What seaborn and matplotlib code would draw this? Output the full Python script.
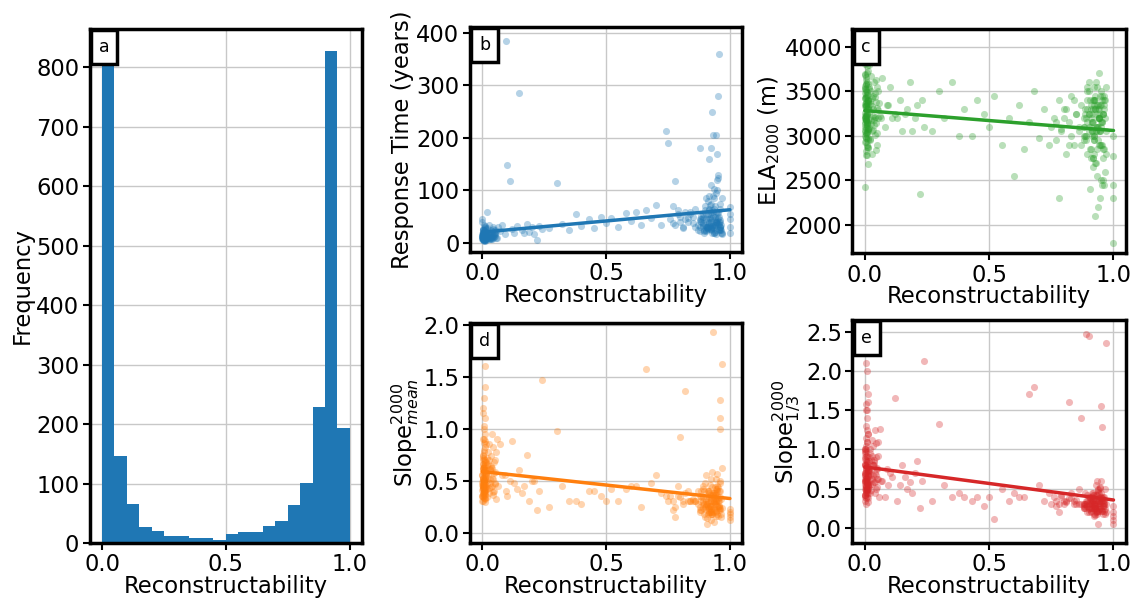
import matplotlib
matplotlib.use('Agg')
import matplotlib.pyplot as plt
import pandas as pd
import seaborn as sns

# panel a: histogram of reconstructability, bins of 0.05
bin_edges = [0.0, 0.05, 0.1, 0.15, 0.2, 0.25, 0.3, 0.35, 0.4, 0.45, 0.5,
             0.55, 0.6, 0.65, 0.7, 0.75, 0.8, 0.85, 0.9, 0.95, 1.0]
bin_counts = [807, 147, 66, 27, 21, 12, 12, 9, 9, 5,
              15, 19, 19, 28, 37, 64, 101, 228, 828, 194]

# panels b-e: one row per glacier (reconstructability is shared)
recon = [
    # near zero
    0.000, 0.001, 0.002, 0.003, 0.004, 0.005, 0.006, 0.007, 0.008, 0.009,
    0.010, 0.011, 0.012, 0.013, 0.014, 0.000, 0.002, 0.004, 0.006, 0.008,
    0.001, 0.003, 0.005, 0.007, 0.009, 0.011, 0.013, 0.015, 0.000, 0.002,
    0.004, 0.006, 0.008, 0.010, 0.012, 0.014, 0.001, 0.003, 0.005, 0.007,
    0.009, 0.011, 0.013, 0.000, 0.001, 0.002, 0.003, 0.004, 0.005, 0.006,
    0.000, 0.001, 0.002, 0.003, 0.004, 0.005, 0.006, 0.007, 0.008, 0.009,
    0.010, 0.011, 0.012, 0.013, 0.014, 0.000, 0.002, 0.004, 0.006, 0.008,
    0.001, 0.003, 0.005, 0.007, 0.009, 0.011, 0.013, 0.015, 0.000, 0.002,
    0.004, 0.006, 0.008, 0.010, 0.012, 0.014, 0.001, 0.003, 0.005, 0.007,
    0.009, 0.011, 0.013, 0.000, 0.001, 0.002, 0.003, 0.004, 0.005, 0.006,
    # 0.015 - 0.06
    0.016, 0.018, 0.020, 0.022, 0.024, 0.026, 0.028, 0.030, 0.032, 0.034,
    0.036, 0.038, 0.040, 0.042, 0.044, 0.046, 0.048, 0.050, 0.052, 0.055,
    0.017, 0.019, 0.021, 0.023, 0.025, 0.027, 0.029, 0.031, 0.033, 0.035,
    0.037, 0.039, 0.041, 0.043, 0.045, 0.047, 0.050, 0.053, 0.056, 0.060,
    # 0.06 - 0.25
    0.065, 0.07, 0.08, 0.09, 0.095, 0.10, 0.11, 0.12, 0.13, 0.14,
    0.15, 0.16, 0.17, 0.18, 0.19, 0.20, 0.21, 0.22, 0.23, 0.24,
    # 0.25 - 0.75
    0.27, 0.30, 0.32, 0.35, 0.38, 0.40, 0.43, 0.45, 0.48, 0.50,
    0.52, 0.55, 0.58, 0.60, 0.62, 0.64, 0.66, 0.68, 0.70, 0.72,
    0.74, 0.75,
    # 0.75 - 0.88
    0.76, 0.77, 0.78, 0.79, 0.80, 0.81, 0.82, 0.83, 0.84, 0.85,
    0.86, 0.87, 0.88, 0.78, 0.80, 0.82, 0.84, 0.86, 0.77, 0.79,
    0.81, 0.83, 0.85, 0.87, 0.88,
    # 0.88 - 0.97
    0.880, 0.890, 0.900, 0.905, 0.910, 0.915, 0.920, 0.925, 0.930, 0.935,
    0.940, 0.945, 0.950, 0.955, 0.960, 0.965, 0.970, 0.885, 0.895, 0.908,
    0.912, 0.918, 0.922, 0.928, 0.932, 0.938, 0.942, 0.948, 0.952, 0.958,
    0.962, 0.902, 0.917, 0.927, 0.937, 0.947, 0.957, 0.892, 0.923, 0.943,
    0.880, 0.890, 0.900, 0.905, 0.910, 0.915, 0.920, 0.925, 0.930, 0.935,
    0.940, 0.945, 0.950, 0.955, 0.960, 0.965, 0.970, 0.885, 0.895, 0.908,
    0.912, 0.918, 0.922, 0.928, 0.932, 0.938, 0.942, 0.948, 0.952, 0.958,
    0.962, 0.902, 0.917, 0.927, 0.937, 0.947, 0.957, 0.892, 0.923, 0.943,
    0.880, 0.890, 0.900, 0.905, 0.910, 0.915, 0.920, 0.925, 0.930, 0.935,
    0.940, 0.945, 0.950, 0.955, 0.960, 0.965, 0.970, 0.885, 0.895, 0.908,
    0.912, 0.918, 0.922, 0.928, 0.932, 0.938, 0.942, 0.948, 0.952, 0.958,
    0.962, 0.902, 0.917, 0.927, 0.937, 0.947, 0.957, 0.892, 0.923, 0.943,
    # fully reconstructable
    1.0, 1.0, 1.0, 1.0, 1.0,
]

response_time = [
    12, 18, 8, 25, 15, 10, 20, 6, 14, 22,
    9, 16, 30, 11, 19, 7, 13, 24, 5, 16,
    20, 10, 14, 35, 8, 17, 12, 6, 18, 10,
    15, 9, 22, 13, 4, 27, 11, 16, 19, 14,
    7, 21, 12, 40, 10, 13, 8, 17, 11, 11,
    14, 11, 26, 9, 17, 6, 19, 12, 23, 13,
    10, 24, 15, 8, 12, 45, 7, 11, 3, 15,
    18, 13, 9, 16, 21, 5, 28, 12, 10, 18,
    11, 20, 14, 7, 33, 12, 16, 9, 15, 13,
    16, 8, 19, 13, 10, 25, 6, 14, 21, 18,
    20, 14, 28, 10, 18, 35, 12, 16, 9, 8,
    15, 22, 8, 30, 13, 19, 11, 25, 17, 10,
    11, 60, 9, 18, 14, 7, 21, 12, 8, 10,
    24, 12, 18, 9, 27, 15, 20, 13, 22, 10,
    30, 22, 35, 18, 385, 148, 118, 26, 20, 32,
    285, 24, 19, 36, 21, 30, 17, 5, 33, 26,
    28, 115, 36, 25, 55, 32, 45, 28, 50, 38,
    48, 30, 58, 42, 60, 35, 62, 48, 72, 35,
    213, 190,
    45, 70, 35, 55, 50, 30, 60, 40, 60, 50,
    65, 25, 180, 118, 40, 45, 55, 30, 38, 62,
    28, 48, 38, 35, 45,
    30, 45, 62, 25, 80, 40, 55, 110, 35, 102,
    50, 95, 130, 40, 65, 25, 85, 45, 19, 30,
    55, 35, 75, 20, 60, 45, 40, 100, 124, 30,
    75, 55, 90, 28, 65, 120, 50, 35, 26, 40,
    42, 38, 70, 22, 45, 160, 33, 60, 28, 86,
    35, 60, 48, 360, 25, 20, 18, 40, 22, 28,
    28, 45, 180, 32, 52, 70, 24, 38, 58, 30,
    40, 30, 65, 250, 20, 44, 36, 55, 25, 18,
    22, 50, 34, 85, 26, 62, 48, 30, 205, 20,
    34, 38, 280, 27, 44, 35, 20, 52, 24, 30,
    33, 72, 26, 48, 90, 21, 40, 170, 36, 30,
    26, 45, 38, 62, 30, 58, 24, 32, 40, 205,
    68, 30, 45, 20, 55,
]

ela_2000 = [
    3480, 3130, 3680, 2980, 3330, 3180, 3830, 3030, 3380, 2780,
    3230, 3580, 3080, 3400, 2880, 3930, 3200, 3530, 2930, 3040,
    3360, 3030, 3630, 3160, 3460, 2680, 3730, 3250, 3430, 3070,
    2980, 3380, 3780, 3100, 3300, 2860, 3560, 3220, 3500, 3120,
    3880, 3080, 3320, 2930, 3430, 3200, 3580, 2830, 3370, 3180,
    3160, 3540, 3000, 3350, 3660, 2780, 3440, 3240, 3490, 3140,
    3980, 2980, 3400, 3060, 3310, 2430, 3690, 3190, 3460, 3300,
    3100, 3430, 3220, 3600, 2900, 3370, 3150, 3550, 3260, 3220,
    3330, 3020, 3710, 3130, 3390, 2950, 3520, 3210, 3300, 3240,
    2880, 3460, 3180, 3800, 3040, 3340, 3250, 3580, 3090, 3180,
    3520, 3090, 3390, 2950, 3670, 3180, 3330, 3050, 3450, 3070,
    3120, 3600, 3210, 3480, 2840, 3380, 3030, 3550, 3290, 3200,
    3790, 2970, 3360, 3130, 3500, 2800, 3430, 3220, 3300, 3200,
    3180, 3440, 3010, 3630, 3140, 3310, 2900, 3500, 3370, 3220,
    3200, 3650, 3100, 3350, 3350, 3550, 3200, 3250, 3200, 3400,
    3050, 3250, 3300, 3600, 3050, 3200, 3350, 2350, 3400, 3100,
    3050, 3500, 3200, 3600, 3000, 3300, 3000, 3400, 3250, 3100,
    3450, 2900, 3200, 2550, 3350, 2850, 3150, 3500, 2980, 3300,
    2900, 3100,
    3200, 2950, 3400, 3050, 3300, 2800, 3150, 3450, 2900, 3250,
    3100, 3350, 3000, 2300, 3200, 2900, 3400, 3050, 3150, 3075,
    3300, 3000, 3250, 2900, 3100,
    3100, 2950, 3250, 3400, 2850, 3150, 3000, 3300, 2700, 3350,
    3050, 3450, 2900, 3150, 3350, 2600, 3050, 3250, 3500, 2750,
    3000, 3300, 2800, 3100, 3550, 2950, 3200, 2500, 3400, 3250,
    2850, 3250, 3150, 2100, 3350, 3050, 2750, 3300, 3550, 3700,
    3200, 3000, 3600, 2400, 3100, 3250, 2950, 3400, 3050, 3100,
    2900, 3350, 3100, 2450, 3450, 3200, 2800, 3300, 3150, 3350,
    3150, 2750, 3400, 3050, 2550, 3300, 3200, 3500, 2900, 3250,
    3300, 3050, 2650, 3450, 3100, 2300, 3250, 3400, 3350, 3200,
    2950, 3200, 3500, 2850, 3300, 3050, 3400, 2700, 3250, 2850,
    3250, 2900, 3350, 3150, 2450, 3400, 3550, 3000, 2800, 3200,
    3050, 3400, 2950, 3600, 3100, 2200, 3300, 3150, 3450, 2850,
    3400, 3100, 2750, 3300, 3200, 3050, 2500, 3550, 3000, 3200,
    1800, 2300, 2450, 2770, 3000,
]

slope_mean = [
    0.55, 0.70, 0.45, 0.90, 0.35, 0.62, 0.48, 0.80, 0.40, 0.65,
    0.38, 1.10, 0.52, 0.44, 0.60, 0.30, 0.75, 0.50, 0.86, 0.45,
    0.62, 0.42, 1.30, 0.50, 0.33, 0.58, 0.47, 0.68, 0.55, 0.45,
    0.48, 0.58, 0.36, 0.95, 0.52, 0.44, 0.66, 0.30, 0.71, 0.90,
    1.60, 0.40, 0.54, 0.35, 0.46, 0.62, 0.38, 0.52, 0.60, 0.43,
    0.46, 0.72, 0.34, 0.58, 1.20, 0.40, 0.50, 0.63, 0.39, 0.68,
    0.70, 0.44, 0.56, 0.32, 0.85, 0.49, 0.61, 0.42, 1.00, 0.51,
    0.53, 0.37, 0.78, 0.45, 0.60, 1.40, 0.29, 0.55, 0.41, 0.52,
    0.44, 0.64, 0.50, 0.82, 0.36, 0.57, 0.47, 0.74, 0.33, 1.03,
    0.60, 0.41, 0.88, 0.35, 0.53, 0.66, 0.43, 1.15, 0.39, 0.50,
    0.50, 0.65, 0.42, 0.78, 0.55, 0.38, 0.70, 0.48, 0.60, 0.74,
    0.44, 0.62, 0.95, 0.36, 0.52, 0.68, 0.40, 0.58, 0.47, 0.78,
    0.56, 0.34, 0.72, 0.49, 0.66, 0.43, 0.85, 0.52, 0.61, 0.62,
    0.64, 0.45, 0.53, 0.82, 0.39, 0.57, 0.48, 0.70, 0.32, 0.90,
    0.45, 0.85, 0.55, 0.55, 0.40, 0.35, 0.50, 0.88, 0.48, 0.42,
    0.60, 0.38, 0.45, 0.75, 0.30, 0.50, 0.50, 0.22, 0.40, 1.47,
    0.25, 0.98, 0.45, 0.30, 0.30, 0.28, 0.40, 0.40, 0.35, 0.30,
    0.42, 0.30, 0.42, 0.45, 0.45, 0.25, 1.58, 0.48, 0.55, 0.38,
    0.35, 0.30,
    0.35, 0.30, 0.25, 0.45, 0.92, 0.30, 1.36, 0.40, 0.30, 0.32,
    0.30, 0.28, 0.30, 0.15, 0.34, 0.38, 0.30, 0.30, 0.22, 0.35,
    0.28, 0.30, 0.30, 0.40, 0.25,
    0.35, 0.45, 0.25, 0.55, 0.30, 0.40, 0.20, 0.32, 0.38, 0.29,
    0.28, 0.42, 0.30, 0.22, 0.48, 0.15, 0.62, 0.34, 0.40, 0.28,
    0.40, 0.26, 0.52, 0.18, 0.36, 0.44, 0.30, 0.56, 0.25, 0.22,
    1.28, 0.32, 0.20, 0.26, 0.38, 0.18, 0.24, 0.30, 0.12, 0.21,
    0.20, 0.28, 0.15, 0.30, 0.18, 0.24, 0.26, 0.20, 1.93, 0.10,
    0.36, 0.30, 0.44, 0.26, 0.50, 0.32, 1.62, 0.22, 0.18, 0.14,
    0.24, 0.46, 0.30, 0.58, 0.20, 0.38, 0.28, 0.42, 0.16, 0.34,
    1.00, 0.22, 0.34, 0.18, 0.30, 0.26, 0.40, 0.24, 0.20, 0.16,
    0.22, 0.34, 0.48, 0.26, 0.40, 0.20, 0.30, 0.23, 0.36, 0.24,
    0.30, 0.20, 0.34, 0.26, 1.10, 0.18, 0.24, 0.40, 0.28, 0.08,
    0.26, 0.36, 0.18, 0.44, 0.30, 0.22, 0.52, 0.40, 0.32, 0.24,
    0.40, 0.28, 0.38, 0.22, 0.34, 0.45, 0.30, 0.42, 0.26, 0.38,
    0.15, 0.20, 0.23, 0.12, 0.18,
]

slope_third = [
    0.70, 0.95, 0.55, 1.30, 0.45, 0.80, 0.60, 1.10, 0.50, 0.85,
    0.48, 1.60, 0.68, 0.56, 0.78, 0.35, 1.00, 0.62, 1.15, 0.58,
    0.82, 0.52, 2.10, 0.64, 0.40, 0.72, 0.58, 0.90, 0.70, 0.42,
    0.60, 0.75, 0.44, 1.40, 0.66, 0.55, 0.88, 0.30, 0.97, 1.25,
    2.00, 0.52, 0.70, 0.42, 0.60, 0.80, 0.48, 0.66, 0.92, 0.70,
    0.58, 0.98, 0.40, 0.76, 1.80, 0.50, 0.64, 0.84, 0.48, 0.82,
    0.92, 0.55, 0.74, 0.38, 1.20, 0.62, 0.80, 0.52, 1.50, 0.57,
    0.68, 0.46, 1.05, 0.57, 0.78, 1.70, 0.33, 0.72, 0.50, 1.01,
    0.55, 0.86, 0.63, 1.10, 0.44, 0.74, 0.60, 1.00, 0.38, 1.50,
    0.78, 0.50, 1.20, 0.42, 0.68, 0.90, 0.54, 1.58, 0.48, 0.72,
    0.66, 0.85, 0.55, 1.00, 0.72, 0.48, 0.92, 0.62, 0.80, 1.05,
    0.58, 0.80, 1.25, 0.45, 0.68, 0.90, 0.52, 0.76, 0.62, 1.09,
    0.74, 0.44, 0.95, 0.64, 0.86, 0.56, 1.12, 0.68, 0.80, 0.86,
    0.84, 0.58, 0.70, 1.08, 0.50, 0.75, 0.62, 0.92, 0.40, 1.26,
    0.60, 0.60, 0.40, 0.75, 0.55, 0.70, 0.65, 1.65, 0.35, 0.55,
    0.80, 0.65, 0.50, 0.58, 0.45, 0.70, 0.85, 0.25, 0.60, 2.12,
    0.35, 1.33, 0.55, 0.40, 0.45, 0.40, 0.35, 0.40, 0.28, 0.40,
    0.12, 0.50, 0.35, 0.45, 0.40, 0.40, 1.70, 1.80, 0.55, 0.35,
    0.45, 0.30,
    0.40, 0.35, 0.30, 0.40, 0.35, 0.35, 1.60, 0.45, 0.30, 0.30,
    0.30, 1.40, 0.25, 0.20, 0.30, 0.38, 0.35, 0.50, 0.28, 0.42,
    0.33, 0.38, 0.36, 0.30, 0.30,
    0.30, 2.47, 0.25, 0.40, 0.20, 0.35, 0.15, 0.28, 0.22, 0.18,
    0.45, 0.32, 1.55, 0.38, 0.28, 0.50, 2.35, 0.25, 0.35, 0.30,
    0.35, 0.42, 0.28, 0.55, 0.30, 0.48, 0.22, 0.60, 0.38, 0.32,
    0.40, 0.30, 0.45, 0.25, 0.36, 0.52, 0.28, 0.20, 0.42, 0.34,
    0.25, 0.30, 2.45, 0.35, 0.22, 0.40, 0.18, 0.30, 0.26, 0.20,
    0.38, 0.28, 0.45, 1.28, 0.32, 0.24, 0.20, 0.30, 0.42, 0.26,
    0.30, 0.36, 0.24, 0.42, 0.60, 0.50, 0.28, 0.34, 0.22, 0.40,
    0.22, 0.40, 0.30, 0.26, 0.46, 0.51, 0.34, 0.28, 0.38, 0.24,
    0.28, 0.34, 0.20, 0.38, 0.25, 0.44, 0.30, 0.16, 0.36, 0.22,
    0.32, 0.26, 0.40, 0.22, 0.36, 0.18, 0.30, 0.44, 0.28, 0.34,
    0.26, 0.38, 0.30, 0.20, 0.42, 0.05, 0.34, 0.24, 0.36, 0.28,
    0.30, 0.24, 0.36, 0.28, 0.22, 0.40, 0.18, 0.32, 0.26, 0.34,
    0.10, 0.20, 0.28, 0.15, 0.05,
]

df = pd.DataFrame({'recon': recon, 'rt': response_time, 'ela': ela_2000,
                   'smean': slope_mean, 's13': slope_third})

sns.set_theme(style='whitegrid')
plt.rcParams['font.family'] = ['DejaVu Sans']
plt.rcParams['grid.color'] = '#c8c8c8'
plt.rcParams['text.color'] = 'black'
plt.rcParams['axes.labelcolor'] = 'black'
plt.rcParams['xtick.bottom'] = True
plt.rcParams['ytick.left'] = True
plt.rcParams['xtick.major.size'] = 5
plt.rcParams['ytick.major.size'] = 5
plt.rcParams['xtick.major.width'] = 1.5
plt.rcParams['ytick.major.width'] = 1.5
plt.rcParams['xtick.color'] = 'black'
plt.rcParams['ytick.color'] = 'black'

FS = 16.3

fig = plt.figure(figsize=(11.35, 6), dpi=100)
ax_a = fig.add_axes([0.079, 0.095, 0.240, 0.857])
ax_b = fig.add_axes([0.414, 0.580, 0.240, 0.375])
ax_c = fig.add_axes([0.751, 0.578, 0.241, 0.374])
ax_d = fig.add_axes([0.414, 0.095, 0.240, 0.367])
ax_e = fig.add_axes([0.751, 0.095, 0.241, 0.372])

# histogram from the binned counts
centers = [(bin_edges[i] + bin_edges[i + 1]) / 2 for i in range(len(bin_counts))]
sns.histplot(x=centers, weights=bin_counts, bins=bin_edges, color='#1f77b4',
             alpha=1, linewidth=0, ax=ax_a)
ax_a.set_ylim(0, 865)
ax_a.set_yticks(range(0, 900, 100))
ax_a.set_ylabel('Frequency', fontsize=FS, labelpad=2)

panels = [
    (ax_b, 'rt', '#1f77b4', 'Response Time (years)', (-17, 411),
     [0, 100, 200, 300, 400], ['0', '100', '200', '300', '400']),
    (ax_c, 'ela', '#2ca02c', 'ELA$_{2000}$ (m)', (1685, 4200),
     [2000, 2500, 3000, 3500, 4000], ['2000', '2500', '3000', '3500', '4000']),
    (ax_d, 'smean', '#ff7f0e', 'Slope$^{2000}_{mean}$', (-0.1, 2.02),
     [0, 0.5, 1.0, 1.5, 2.0], ['0.0', '0.5', '1.0', '1.5', '2.0']),
    (ax_e, 's13', '#d62728', 'Slope$^{2000}_{1/3}$', (-0.19, 2.65),
     [0, 0.5, 1.0, 1.5, 2.0, 2.5], ['0.0', '0.5', '1.0', '1.5', '2.0', '2.5']),
]
for ax, col, color, ylab, ylim, yticks, ylabels in panels:
    sns.regplot(data=df, x='recon', y=col, ax=ax, ci=None, color=color,
                scatter_kws={'s': 26, 'alpha': 0.33, 'linewidths': 0},
                line_kws={'linewidth': 2.5})
    ax.set_ylim(*ylim)
    ax.set_yticks(yticks)
    ax.set_yticklabels(ylabels)
    ax.set_ylabel(ylab, fontsize=FS, labelpad=2)

for ax, letter in [(ax_a, 'a'), (ax_b, 'b'), (ax_c, 'c'), (ax_d, 'd'), (ax_e, 'e')]:
    ax.set_xlim(-0.05, 1.05)
    ax.set_xticks([0, 0.5, 1.0])
    ax.set_xticklabels(['0.0', '0.5', '1.0'])
    ax.set_xlabel('Reconstructability', fontsize=FS, labelpad=-1)
    ax.tick_params(labelsize=FS, direction='out', pad=2.5, labelcolor='black')
    ax.grid(True, linewidth=1)
    ax.set_axisbelow(True)
    for s in ax.spines.values():
        s.set_color('black')
        s.set_linewidth(2.5)
    # letter box flush with the top-left corner
    ax.annotate(letter, xy=(0, 1), xycoords='axes fraction', xytext=(6.5, -6.5),
                textcoords='offset points', ha='left', va='top', fontsize=12.5,
                color='black', zorder=10,
                bbox=dict(boxstyle='square,pad=0.45', fc='white', ec='black', lw=2.5))

fig.savefig('out.png', dpi=100)
